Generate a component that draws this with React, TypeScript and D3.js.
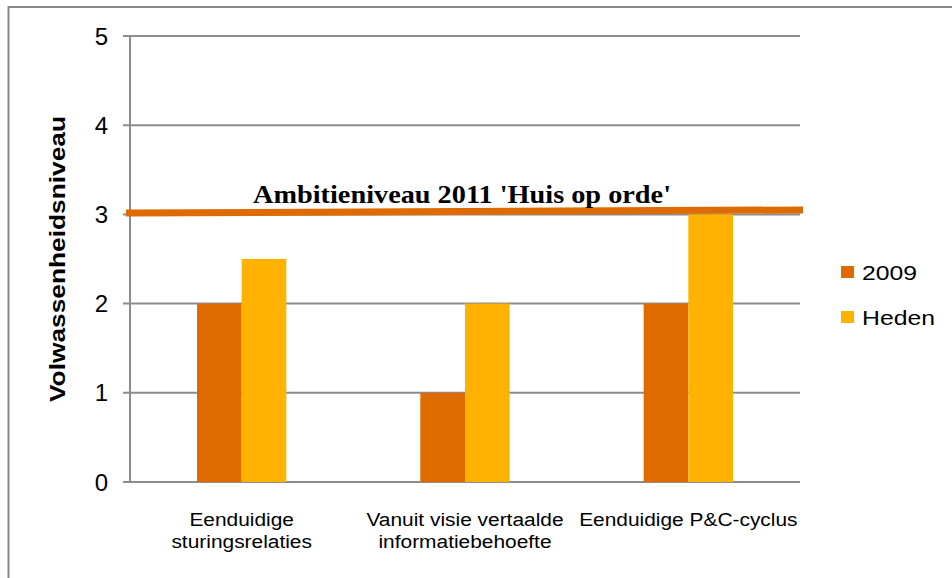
import React from 'react';
import * as d3 from 'd3';

const categories = [
  ['Eenduidige', 'sturingsrelaties'],
  ['Vanuit visie vertaalde', 'informatiebehoefte'],
  ['Eenduidige P&C-cyclus'],
];
const seriesNames = ['2009', 'Heden'];
const values2009 = [2, 1, 2];
const valuesHeden = [2.5, 2, 3];
const yTicks = [0, 1, 2, 3, 4, 5];
const ambitionLabel = "Ambitieniveau 2011 'Huis op orde'";
// line in the picture is drawn slightly sloped: start and end level
const ambitionLevel = [3.015, 3.05];

const colors = ['#DE6B00', '#FFB300'];

const App = () => {
  const width = 952;
  const height = 578;
  const left = 130;
  const right = 800;
  const top = 36;
  const bottom = 482;

  const x = d3.scaleBand<number>()
    .domain(categories.map((_, i) => i))
    .range([left, right])
    .paddingInner(0)
    .paddingOuter(0);
  const y = d3.scaleLinear().domain([0, 5]).range([bottom, top]);

  const series = [values2009, valuesHeden];
  const barW = x.bandwidth() * 0.2;

  const sans = '"Liberation Sans", Arial, sans-serif';

  return (
    <svg width={width} height={height} style={{ position: 'absolute', left: 0, top: 0 }}>
      <rect x={8.5} y={7} width={width} height={height} fill="white" stroke="#888" strokeWidth={2} />

      {/* grid lines */}
      {yTicks.map(t => (
        <line key={t} x1={left - 7} x2={right} y1={y(t)} y2={y(t)} stroke="#8c8c8c" strokeWidth={2} />
      ))}
      <line x1={left} x2={left} y1={top} y2={bottom} stroke="#8c8c8c" strokeWidth={2} />

      {yTicks.map(t => (
        <text key={t} x={108} y={y(t)} dy="0.36em" textAnchor="end" fontFamily={sans} fontSize={24} fill="#000">{t}</text>
      ))}

      {/* bars */}
      {series.map((vals, s) =>
        vals.map((v, i) => {
          const cx = (x(i) as number) + x.bandwidth() / 2;
          return (
            <rect key={s + '-' + i}
              x={cx - barW + s * barW}
              y={y(v)}
              width={barW}
              height={y(0) - y(v)}
              fill={colors[s]} />
          );
        })
      )}

      {/* ambition line */}
      <line x1={left - 4} x2={right + 3} y1={y(ambitionLevel[0])} y2={y(ambitionLevel[1])} stroke={colors[0]} strokeWidth={7} />
      <text x={253} y={203} fontFamily='"Liberation Serif", Georgia, serif' fontWeight="bold" fontSize={25}
        textLength={418} lengthAdjust="spacingAndGlyphs" fill="#000">{ambitionLabel}</text>

      {/* x labels */}
      {categories.map((lines, i) => (
        lines.map((l, j) => (
          <text key={i + '-' + j}
            transform={`translate(${(x(i) as number) + x.bandwidth() / 2}, ${526 + j * 22}) scale(1.1, 1)`}
            textAnchor="middle" fontFamily={sans} fontSize={19} fill="#000">{l}</text>
        ))
      ))}

      {/* y title */}
      <text transform={`translate(65, ${259}) rotate(-90)`} textAnchor="middle" fontFamily={sans} fontWeight="bold" fontSize={22}
        textLength={286} lengthAdjust="spacingAndGlyphs" fill="#000">Volwassenheidsniveau</text>

      {/* legend */}
      {seriesNames.map((n, i) => (
        <g key={n} transform={`translate(841, ${i === 0 ? 272 : 317})`}>
          <rect x={0} y={-6} width={13} height={12} fill={colors[i]} />
          <text x={21} y={8} fontFamily={sans} fontSize={20} fill="#000"
            transform="scale(1, 1)" textLength={i === 0 ? 55 : 73} lengthAdjust="spacingAndGlyphs">{n}</text>
        </g>
      ))}
    </svg>
  );
};

export default App;
